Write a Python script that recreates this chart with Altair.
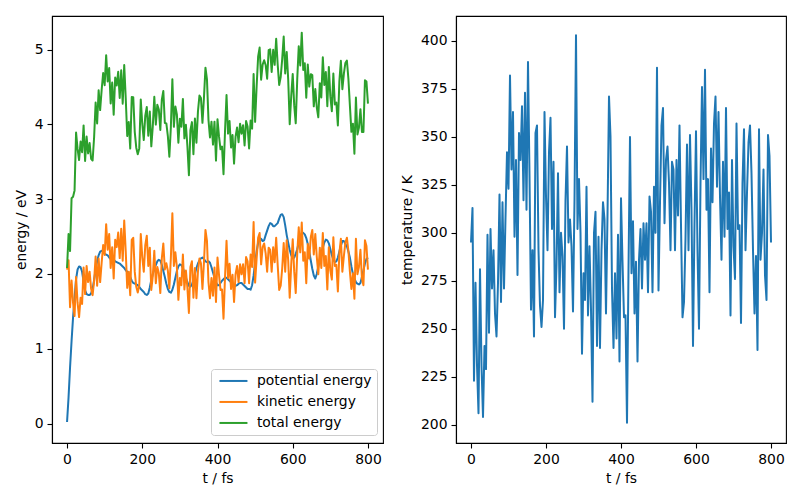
import altair as alt
import pandas as pd

# time axis (fs), one sample every 4 fs
time_fs = list(range(0, 801, 4))

# temperature (K)
temperature_K = [
    295, 313, 223, 274, 231, 206, 281, 231, 204, 241, 229, 299, 248, 302, 271, 291,
    258, 246, 274, 320, 264, 316, 271, 308, 342, 323, 382, 333, 363, 298, 338, 278,
    352, 338, 366, 317, 373, 312, 389, 330, 260, 291, 246, 352, 356, 291, 262, 251,
    265, 363, 319, 291,
    342, 360, 302, 337, 256, 283, 331, 269, 300, 288, 250, 317, 345, 295, 307, 293,
    259, 317, 403, 302, 328, 300, 237, 279, 265, 324, 257, 293, 260, 212, 300, 311,
    241, 298, 240, 291, 316, 307, 258, 309, 371, 350, 271, 240, 279, 245, 299, 233,
    318, 285, 256, 257,
    201, 281, 350, 279, 306, 258, 285, 233, 286, 302, 271, 305, 286, 305, 269, 319,
    311, 269, 324, 300, 386, 270, 316, 356, 365, 305, 338, 345, 326, 291, 337, 333,
    291, 338, 309, 356, 304, 256, 264, 297, 346, 291, 351, 312, 241, 305, 353, 291,
    250, 326,
    376, 328, 385, 312, 328, 269, 344, 316, 357, 371, 324, 363, 319, 286, 337, 298,
    365, 302, 321, 257, 338, 293, 276, 357, 302, 304, 253, 326, 354, 291, 321, 347,
    356, 331, 291, 258, 288, 239, 354, 286, 300, 333, 278, 265, 351, 340, 295,
]

# potential energy (eV)
potential_eV = [
    0.02, 0.35, 0.75, 1.10, 1.42, 1.68, 1.93, 2.06, 2.10, 2.09, 2.03, 1.90, 1.78, 1.73, 1.72, 1.72,
    1.74, 1.80, 1.92, 2.06, 2.17, 2.25, 2.30, 2.31, 2.30, 2.27, 2.26, 2.25, 2.22, 2.20, 2.20, 2.19,
    2.17, 2.16, 2.15, 2.14, 2.12, 2.10, 2.08, 2.05, 2.03, 2.00, 1.96, 1.91, 1.88, 1.87, 1.86, 1.85,
    1.83, 1.80, 1.78, 1.76,
    1.73, 1.72, 1.74, 1.82, 1.92, 2.00, 2.06, 2.12, 2.17, 2.19, 2.18, 2.12, 2.04, 1.96, 1.87, 1.80,
    1.76, 1.75, 1.79, 1.86, 1.95, 2.04, 2.10, 2.13, 2.12, 2.08, 2.02, 1.95, 1.89, 1.84, 1.83, 1.86,
    1.92, 2.00, 2.08, 2.14, 2.18, 2.21, 2.22, 2.20, 2.17, 2.16, 2.17, 2.15, 2.09, 2.02, 1.95, 1.89,
    1.85, 1.85, 1.88, 1.91,
    1.93, 1.95, 1.95, 1.93, 1.91, 1.89, 1.87, 1.85, 1.84, 1.85, 1.87, 1.88, 1.88, 1.86, 1.84, 1.82,
    1.80, 1.80, 1.79, 1.85, 1.98, 2.15, 2.30, 2.42, 2.48, 2.47, 2.44, 2.45, 2.52, 2.58, 2.64, 2.68,
    2.67, 2.64, 2.64, 2.66, 2.68, 2.74, 2.79, 2.80, 2.76, 2.65, 2.52, 2.42, 2.32, 2.25, 2.21, 2.22,
    2.27, 2.33,
    2.42, 2.50, 2.54, 2.55, 2.53, 2.48, 2.40, 2.30, 2.18, 2.07, 1.98, 1.94, 2.00, 2.10, 2.20, 2.28,
    2.35, 2.42, 2.46, 2.45, 2.41, 2.33, 2.25, 2.19, 2.16, 2.17, 2.22, 2.30, 2.38, 2.44, 2.44, 2.40,
    2.37, 2.30, 2.22, 2.10, 2.00, 1.94, 1.89, 1.87, 1.86, 1.88, 1.96, 2.05, 2.14, 2.20, 2.22,
]

assert len(time_fs) == len(temperature_K) == len(potential_eV)

# kinetic energy from the temperature (equipartition, 54 atoms)
KB_EV = 8.617333e-5
N_ATOMS = 54
kinetic_eV = [1.5 * N_ATOMS * KB_EV * T for T in temperature_K]
total_eV = [p + k for p, k in zip(potential_eV, kinetic_eV)]

series_names = ["potential energy", "kinetic energy", "total energy"]
series_colors = ["#1f77b4", "#ff7f0e", "#2ca02c"]

rows = []
for name, vals in zip(series_names, [potential_eV, kinetic_eV, total_eV]):
    for t, v in zip(time_fs, vals):
        rows.append({"t": t, "energy": v, "series": name})
energy_df = pd.DataFrame(rows)
temp_df = pd.DataFrame({"t": time_fs, "T": temperature_K})

FONT = "DejaVu Sans"
FS = 13.9

def axis(title, values):
    return alt.Axis(
        title=title, values=values, grid=False,
        domainColor="black", tickColor="black", labelColor="black", titleColor="black",
        tickSize=5, labelPadding=4, titlePadding=6,
        labelFont=FONT, titleFont=FONT, labelFontSize=FS, titleFontSize=FS,
        titleFontWeight="normal", domainWidth=1.1, tickWidth=1.1,
    )

x_enc = alt.X("t:Q", scale=alt.Scale(domain=[-40, 840], nice=False, zero=False),
              axis=axis("t / fs", [0, 200, 400, 600, 800]))

frame = alt.ViewBackground(stroke="black", strokeWidth=1.1, fill="white")

left = alt.Chart(energy_df).mark_line(strokeWidth=2, strokeJoin="round", clip=True).encode(
    x=x_enc,
    y=alt.Y("energy:Q", scale=alt.Scale(domain=[-0.26, 5.45], nice=False, zero=False),
            axis=axis("energy / eV", [0, 1, 2, 3, 4, 5])),
    color=alt.Color("series:N",
                    scale=alt.Scale(domain=series_names, range=series_colors),
                    sort=series_names,
                    legend=alt.Legend(
                        title=None, orient="none", legendX=159, legendY=353, padding=5,
                        strokeColor="#cccccc", fillColor="white", cornerRadius=3,
                        labelFont=FONT, labelFontSize=FS, labelColor="black",
                        symbolType="M-1,0H7", symbolSize=49, symbolStrokeWidth=2,
                        labelOffset=27, rowPadding=6,
                    )),
    detail="series:N",
).properties(width=331, height=427, view=frame)

right = alt.Chart(temp_df).mark_line(strokeWidth=2, strokeJoin="round", color="#1f77b4",
                                     clip=True).encode(
    x=x_enc,
    y=alt.Y("T:Q", scale=alt.Scale(domain=[190.5, 413.0], nice=False, zero=False),
            axis=axis("temperature / K", [200, 225, 250, 275, 300, 325, 350, 375, 400])),
).properties(width=330, height=427, view=frame)

chart = alt.hconcat(left, right, spacing=15,
                    padding={"left": 5, "top": 7, "right": 5, "bottom": 5}).configure(
    background="white"
)

chart.save("out.html", embed_options={"renderer": "svg", "actions": False})
